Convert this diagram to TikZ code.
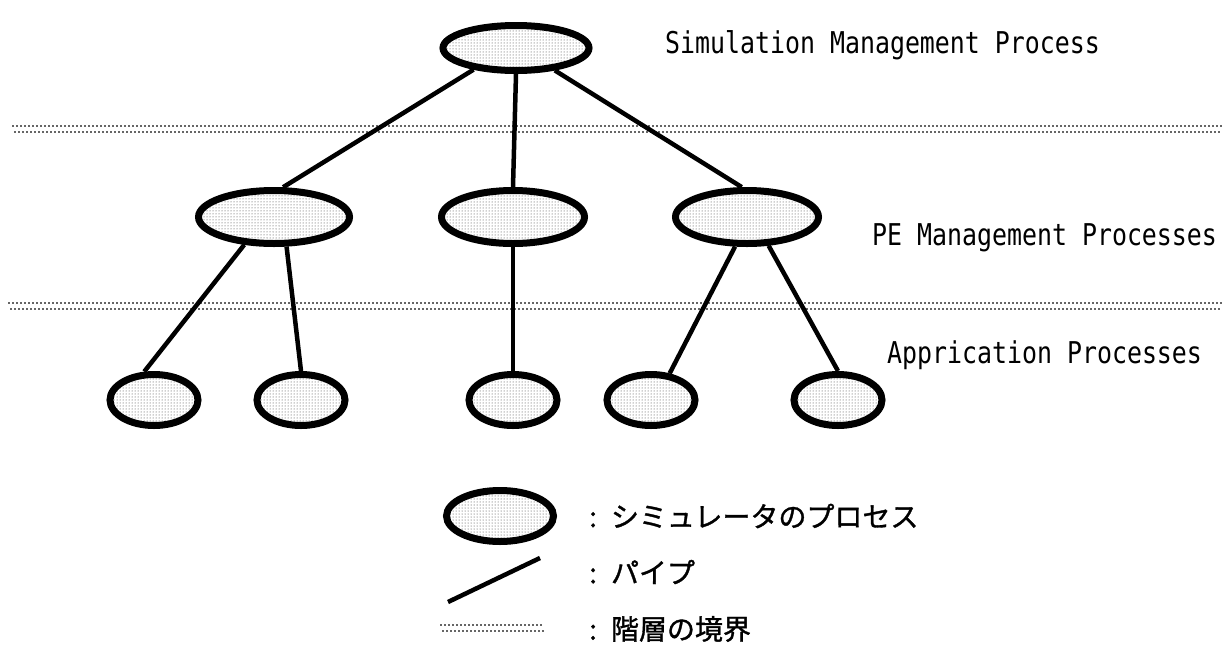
\documentclass[tikz,border=0pt]{standalone}
\usepackage{fontspec}
\usetikzlibrary{shapes.geometric,patterns}
\newfontfamily\jpfont[FakeBold=1.2]{Noto Sans CJK JP}
\newfontfamily\levelfont{DejaVu Sans Mono}

\begin{document}
\begin{tikzpicture}[x=1pt,y=-1pt,
  proc/.style={ellipse,draw,line width=7pt,pattern=dots,pattern color=black!80,inner sep=0pt},
  bigproc/.style={proc,minimum width=143pt,minimum height=53pt},
  smallproc/.style={proc,minimum width=88pt,minimum height=51pt},
  pipe/.style={line width=4.5pt},
  dotrow/.style={line width=2.5pt,black!60,dash pattern=on 1.5pt off 2.5pt},
  level/.style={font=\levelfont\fontsize{30}{30}\selectfont,xscale=0.83,anchor=base west,inner sep=0pt},
  legend/.style={font=\jpfont\fontsize{28}{28}\selectfont,anchor=west,inner sep=0pt}]
  \useasboundingbox (0,0) rectangle (1227,646);

  % layer borders, two rows of dots each
  \draw[dotrow] (12,126) -- (1222,126);
  \draw[dotrow,dash phase=2pt] (12,132) -- (1222,132);
  \draw[dotrow] (8,303) -- (1222,303);
  \draw[dotrow,dash phase=2pt] (8,309) -- (1222,309);

  % processes
  \node[proc,minimum width=146pt,minimum height=45pt] (sim) at (516,48) {};
  \node[bigproc,minimum width=151pt] (pl) at (274,217) {};
  \node[bigproc] (pc) at (513,217) {};
  \node[bigproc] (pr) at (747,217) {};
  \node[smallproc] (a1) at (154,400) {};
  \node[smallproc] (a2) at (301,400) {};
  \node[smallproc] (a3) at (513,400) {};
  \node[smallproc] (a4) at (651,400) {};
  \node[smallproc] (a5) at (838,400) {};

  % pipes
  \draw[pipe] (sim.207) -- (pl.73);
  \draw[pipe] (sim.south) -- (pc.north);
  \draw[pipe] (sim.330) -- (pr.100);
  \draw[pipe] (pl.223) -- (a1.109);
  \draw[pipe] (pl.293) -- (a2.north);
  \draw[pipe] (pc.south) -- (a3.north);
  \draw[pipe] (pr.248) -- (a4.55);
  \draw[pipe] (pr.307) -- (a5.north);

  % level names
  \node[level] (lsim) at (665,53) {Simulation Management Process};
  \node[level] (lpe) at (872,245) {PE Management Processes};
  \node[level] (lapp) at (887,363) {Apprication Processes};

  % legend
  \node[proc,minimum width=107pt,minimum height=51pt] (kproc) at (500,516) {};
  \coordinate (kp1) at (448,602);
  \coordinate (kp2) at (540,558);
  \draw[pipe] (kp1) -- (kp2);
  \draw[dotrow] (440,625) -- (544,625);
  \draw[dotrow,dash phase=2pt] (440,631) -- (544,631);
  \node[legend] (tproc) at (589,516) {:\hspace{14pt}シミュレータのプロセス};
  \node[legend] (tpipe) at (589,572) {:\hspace{14pt}パイプ};
  \node[legend] (tborder) at (589,629) {:\hspace{14pt}階層の境界};
\end{tikzpicture}
\end{document}
